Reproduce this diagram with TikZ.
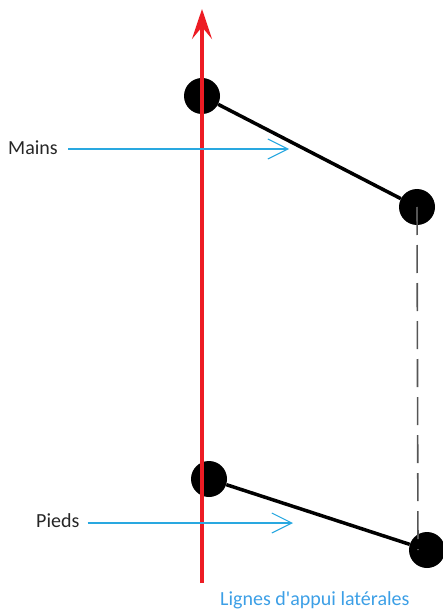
\documentclass[tikz,border=0pt]{standalone}
\usepackage{fontspec}
\setmainfont{Carlito}
\usetikzlibrary{arrows.meta,positioning}
\definecolor{axisred}{HTML}{ED1C24}
\definecolor{pointer}{HTML}{29A8E0}
\definecolor{labelblue}{HTML}{3C9FE6}
\definecolor{dashgray}{HTML}{555555}
\tikzset{
  joint/.style={circle, fill=black, inner sep=0pt, minimum size=36pt},
  limb/.style={line width=3.5pt, black},
  axis/.style={-{Stealth[length=30pt, width=20pt, inset=12pt]}, line width=3.5pt, axisred},
  ptr/.style={-{Straight Barb[length=20pt, width=20pt]}, line width=1.1pt, pointer},
  lbl/.style={font=\fontsize{20}{24}\selectfont, text=black!85, inner sep=0pt}
}

\begin{document}
\begin{tikzpicture}[x=1pt, y=-1pt]
  \useasboundingbox (0,0) rectangle (443,612);
  % joints
  \node[joint] (mainL) at (202,96) {};
  \node[joint] (mainR) at (417,207) {};
  \node[joint] (piedL) at (209,479) {};
  \node[joint] (piedR) at (427,550) {};
  \draw[limb] (mainL) -- (mainR);
  \draw[limb] (piedL) -- (piedR);
  \draw[dashgray, line width=1.6pt, dash pattern=on 28pt off 10pt] (mainR.center) -- (418,550);
  % vertical axis
  \coordinate (axbot) at (202,583);
  \coordinate (axtop) at (202,9);
  \draw[axis] (axbot) -- (axtop);
  % labels
  \node[lbl, anchor=west] (mains) at (8,148) {Mains};
  \node[lbl, anchor=west] (pieds) at (36,521) {Pieds};
  \coordinate (mainsTip) at (289,149);
  \coordinate (piedsTip) at (293,523);
  \draw[ptr] (mains.east) ++(10,1) -- (mainsTip);
  \draw[ptr] (pieds.east) ++(8,2) -- (piedsTip);
  \node[lbl, text=labelblue, anchor=west] (lignes) at (220,600) {Lignes d\textquotesingle appui latérales};
\end{tikzpicture}
\end{document}
